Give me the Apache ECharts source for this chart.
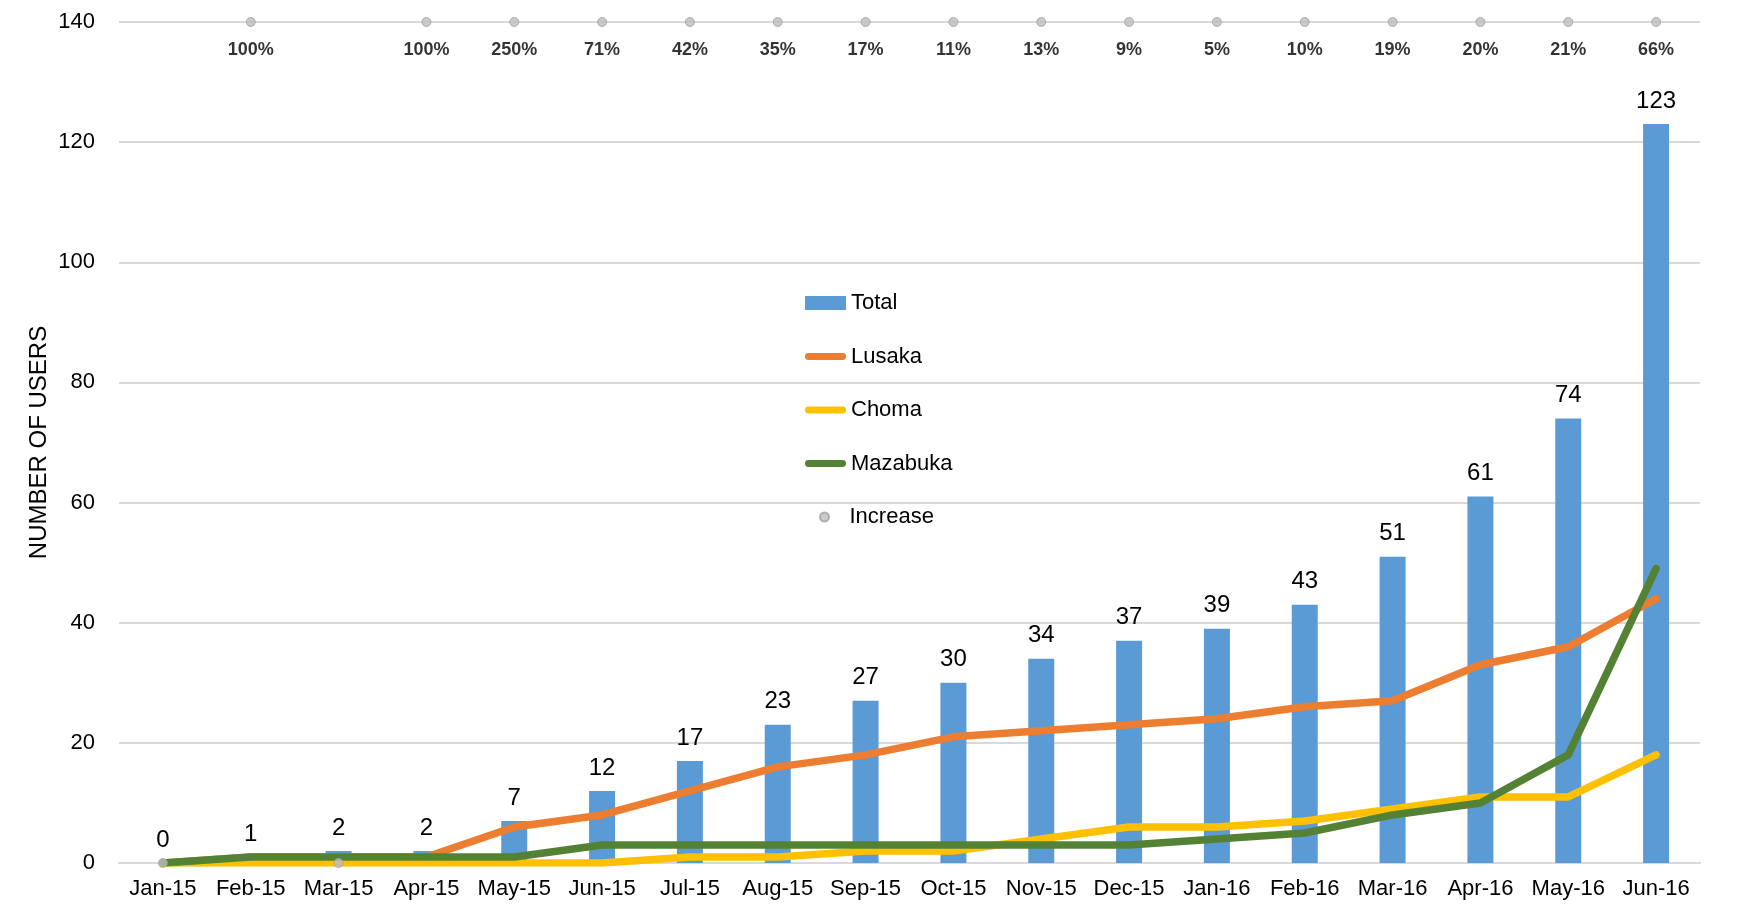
<!DOCTYPE html>
<html>
<head>
<meta charset="utf-8">
<script src="https://cdn.jsdelivr.net/npm/echarts@6/dist/echarts.min.js"></script>
<style>
  html, body { margin: 0; padding: 0; background: #fff; }
  #users { width: 1746px; height: 914px; }
</style>
</head>
<body>
<div id="users"></div>
<script>
// months on the x axis
const months = ['Jan-15', 'Feb-15', 'Mar-15', 'Apr-15', 'May-15', 'Jun-15', 'Jul-15', 'Aug-15', 'Sep-15',
  'Oct-15', 'Nov-15', 'Dec-15', 'Jan-16', 'Feb-16', 'Mar-16', 'Apr-16', 'May-16', 'Jun-16'];
const total = [0, 1, 2, 2, 7, 12, 17, 23, 27, 30, 34, 37, 39, 43, 51, 61, 74, 123];
const lusaka = [0, 1, 1, 1, 6, 8, 12, 16, 18, 21, 22, 23, 24, 26, 27, 33, 36, 44];
const choma = [0, 0, 0, 0, 0, 0, 1, 1, 2, 2, 4, 6, 6, 7, 9, 11, 11, 18];
const mazabuka = [0, 1, 1, 1, 1, 3, 3, 3, 3, 3, 3, 3, 4, 5, 8, 10, 18, 49];
// increase markers sit on the top line, two months have none
const increaseValues = [0, 140, 0, 140, 140, 140, 140, 140, 140, 140, 140, 140, 140, 140, 140, 140, 140, 140];
const increaseLabels = ['', '100%', '', '100%', '250%', '71%', '42%', '35%', '17%', '11%', '13%', '9%', '5%',
  '10%', '19%', '20%', '21%', '66%'];

const font = 'Liberation Sans, Arial, Helvetica, sans-serif';
// rounded bar used as legend icon for the lines
const lineIcon = 'path://M3.5,0 L38.5,0 A3.5,3.5 0 0 1 38.5,7 L3.5,7 A3.5,3.5 0 0 1 3.5,0 Z';

let myChart = echarts.init(document.getElementById('users'));

function lineSeries (name, data, color) {
  return {
    name: name,
    type: 'line',
    data: data,
    symbol: 'none',
    lineStyle: { color: color, width: 7.5, cap: 'round', join: 'round' },
    itemStyle: { color: color },
    z: 3
  };
}

let option = {
  backgroundColor: '#fff',
  textStyle: { fontFamily: font },
  animation: false,
  grid: { left: 119, right: 46, top: 22, bottom: 51, containLabel: false },
  legend: [{
    orient: 'vertical',
    left: 800,
    top: 287,
    itemWidth: 41,
    itemHeight: 14,
    itemGap: 31.5,
    textStyle: { fontSize: 22, color: '#000', fontFamily: font },
    data: [
      { name: 'Total', icon: 'rect' },
      { name: 'Lusaka', icon: lineIcon },
      { name: 'Choma', icon: lineIcon },
      { name: 'Mazabuka', icon: lineIcon }
    ]
  }, {
    orient: 'vertical',
    left: 814,
    top: 501,
    itemWidth: 40,
    itemHeight: 9,
    textStyle: { fontSize: 22, color: '#000', fontFamily: font },
    data: ['Increase']
  }],
  xAxis: {
    type: 'category',
    data: months,
    boundaryGap: true,
    axisTick: { show: false },
    axisLine: { lineStyle: { color: '#d9d9d9', width: 2 } },
    axisLabel: { color: '#000', fontSize: 22, margin: 15, interval: 0 }
  },
  yAxis: {
    type: 'value',
    min: 0,
    max: 140,
    interval: 20,
    name: 'NUMBER OF USERS',
    nameLocation: 'middle',
    nameGap: 68,
    nameMoveOverlap: false,
    nameRotate: 90,
    nameTextStyle: { color: '#000', fontSize: 24 },
    axisLine: { show: false },
    axisTick: { show: false },
    axisLabel: { color: '#000', fontSize: 22, margin: 24 },
    splitLine: { lineStyle: { color: '#d9d9d9', width: 2 } }
  },
  series: [{
    name: 'Total',
    type: 'bar',
    data: total,
    barWidth: 26,
    itemStyle: { color: '#5b9bd5' },
    label: { show: true, position: 'top', distance: 11, color: '#000', fontSize: 24 },
    z: 2
  },
  lineSeries('Lusaka', lusaka, '#ed7d31'),
  lineSeries('Choma', choma, '#ffc000'),
  lineSeries('Mazabuka', mazabuka, '#548235'),
  {
    name: 'Increase',
    type: 'scatter',
    data: increaseValues,
    symbol: 'circle',
    symbolSize: 9,
    clip: false,
    itemStyle: { color: '#bdbdbd', borderColor: '#a0a0a0', borderWidth: 1 },
    label: {
      show: true,
      position: 'bottom',
      distance: 14,
      color: '#000',
      fontSize: 18,
      fontWeight: 'bold',
      formatter: function (p) { return increaseLabels[p.dataIndex]; }
    },
    z: 5
  }]
};

myChart.setOption(option);
</script>
</body>
</html>
